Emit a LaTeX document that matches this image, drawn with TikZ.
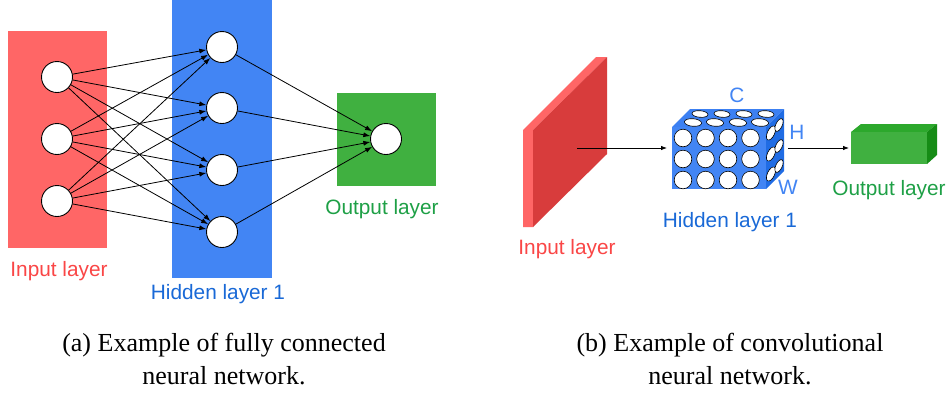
\documentclass[tikz,border=0pt]{standalone}
\usepackage{fontspec}
\setmainfont{Liberation Serif}
\setsansfont{Liberation Sans}
\usetikzlibrary{arrows.meta}
\definecolor{inred}{RGB}{255,102,102}
\definecolor{indark}{RGB}{216,60,60}
\definecolor{intext}{RGB}{250,70,70}
\definecolor{hidblue}{RGB}{66,133,244}
\definecolor{hidside}{RGB}{32,108,228}
\definecolor{hidtop}{RGB}{60,128,242}
\definecolor{hidtext}{RGB}{25,105,215}
\definecolor{outgreen}{RGB}{64,176,64}
\definecolor{outtop}{RGB}{44,168,44}
\definecolor{outside}{RGB}{22,140,22}
\definecolor{outtext}{RGB}{30,160,70}
\tikzset{
  neuron/.style={circle,draw=black,fill=white,line width=0.9pt,minimum size=31pt,inner sep=0pt},
  conn/.style={line width=0.8pt,-{Latex[length=7pt,width=5pt]}},
  lbl/.style={font=\sffamily\fontsize{20.8}{24}\selectfont,inner sep=0pt},
  captxt/.style={font=\rmfamily\fontsize{26}{30}\selectfont,inner sep=0pt,anchor=base},
  hole/.style={draw=black,fill=white,line width=0.6pt}
}
\begin{document}
\begin{tikzpicture}[x=1pt,y=-1pt]
\clip (0,0) rectangle (951,392);
\fill[white] (0,0) rectangle (951,392);
% ---------- (a) fully connected ----------
\fill[inred] (8,31) rectangle (107,248);
\fill[hidblue] (172,0) rectangle (272,278);
\fill[outgreen] (337,93) rectangle (436,186);
\node[neuron] (i1) at (57,77) {};
\node[neuron] (i2) at (57,139) {};
\node[neuron] (i3) at (57,201) {};
\node[neuron] (h1) at (222,47) {};
\node[neuron] (h2) at (222,108) {};
\node[neuron] (h3) at (222,170) {};
\node[neuron] (h4) at (222,232) {};
\node[neuron] (o1) at (386,139) {};
\foreach \i in {1,2,3}{\foreach \h in {1,2,3,4}{\draw[conn] (i\i) -- (h\h);}}
\foreach \h in {1,2,3,4}{\draw[conn] (h\h) -- (o1);}
\node[lbl,text=intext] (tin) at (59,271) {Input layer};
\node[lbl,text=hidtext] (thid) at (218,294) {Hidden layer 1};
\node[lbl,text=outtext] (tout) at (382,209) {Output layer};
% ---------- (b) convolutional ----------
% input slab
\fill[inred] (523,130) -- (596,57) -- (607,57) -- (533,130) -- (533,227) -- (523,227) -- cycle;
\fill[indark] (533,130) -- (607,57) -- (607,154) -- (533,227) -- cycle;
\coordinate (slabc) at (577,148);
% cube
\fill[hidtop] (672,127) -- (690,109) -- (784,109) -- (766,127) -- cycle;
\fill[hidside] (766,127) -- (784,109) -- (784,171) -- (766,189) -- cycle;
\fill[hidblue] (672,127) rectangle (766,189);
\foreach \x in {683,705.5,728,750.5}{\foreach \y in {138,159,180}{\draw[hole] (\x,\y) circle[radius=8.8];}}
\foreach \x in {693,715,738,760}{\draw[hole,shift={(\x,122.5)},rotate=-5] (0,0) ellipse[x radius=8.6,y radius=3.8];}
\foreach \x in {700,722,744,766}{\draw[hole,shift={(\x,114)},rotate=-5] (0,0) ellipse[x radius=8,y radius=3.3];}
\foreach \y in {133,154,174}{\draw[hole,shift={(771,\y)},rotate=-25] (0,0) ellipse[x radius=3.6,y radius=7.6];}
\foreach \y in {125,146,166}{\draw[hole,shift={(779,\y)},rotate=-25] (0,0) ellipse[x radius=3.2,y radius=6.9];}
\coordinate (cubeW) at (667,148);
\coordinate (cubeE) at (788,148);
% output box
\fill[outtop] (851,132) -- (861,124) -- (937,124) -- (927,132) -- cycle;
\fill[outside] (927,132) -- (937,124) -- (937,155) -- (927,164) -- cycle;
\fill[outgreen] (851,132) rectangle (927,164);
\coordinate (outW) at (849,148);
\draw[line width=0.8pt,-{Latex[length=6pt,width=4.5pt]}] (slabc) -- (cubeW);
\draw[line width=0.8pt,-{Latex[length=6pt,width=4.5pt]}] (cubeE) -- (outW);
\node[lbl,text=hidblue] (tC) at (737,95) {C};
\node[lbl,text=hidblue] (tH) at (797,132) {H};
\node[lbl,text=hidblue] (tW) at (788,187) {W};
\node[lbl,text=intext] (tin2) at (567,249) {Input layer};
\node[lbl,text=hidtext] (thid2) at (730,222) {Hidden layer 1};
\node[lbl,text=outtext] (tout2) at (889,190) {Output layer};
% captions
\node[captxt] (ca1) at (224,351) {(a) Example of fully connected};
\node[captxt] (ca2) at (224,384) {neural network.};
\node[captxt] (cb1) at (730,351) {(b) Example of convolutional};
\node[captxt] (cb2) at (730,384) {neural network.};
\end{tikzpicture}
\end{document}
